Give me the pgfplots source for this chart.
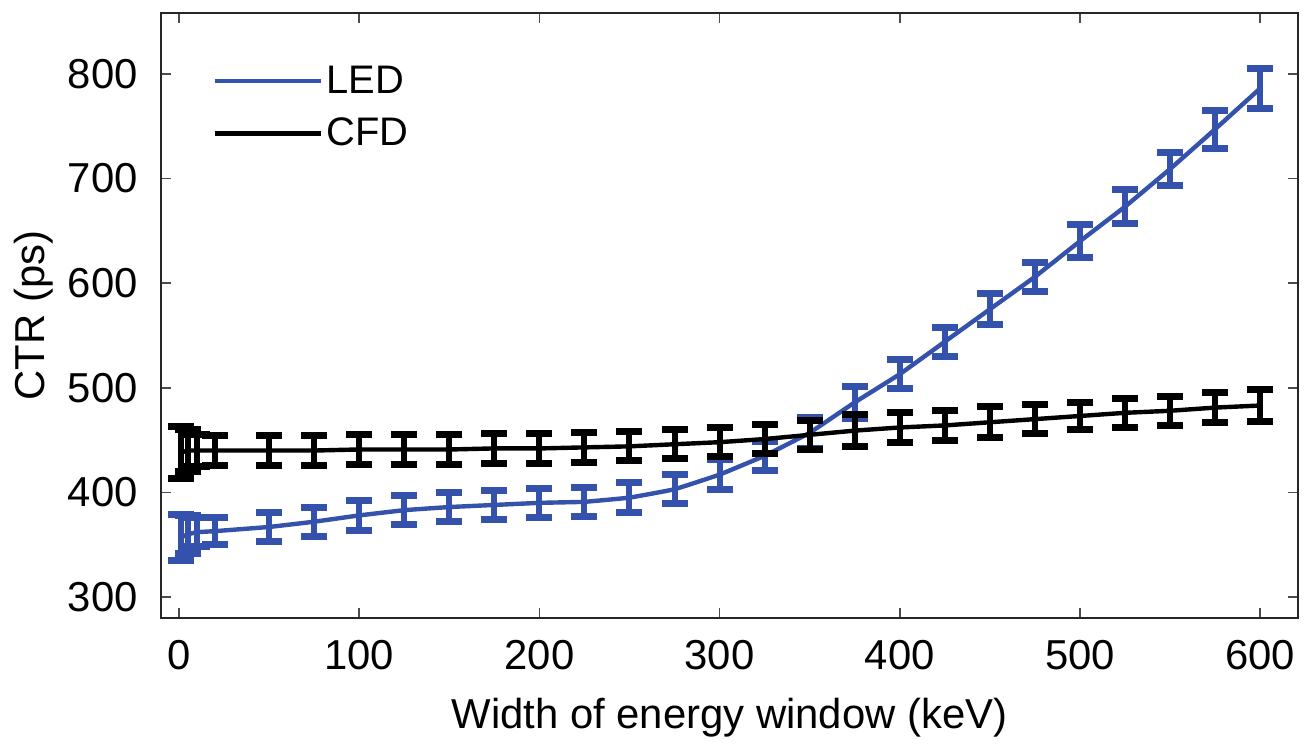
\documentclass[border=0pt]{standalone}
\usepackage{pgfplots}
\pgfplotsset{compat=1.18}
\usepackage{pgfplotstable}
\usepackage{fontspec}
\setmainfont{Liberation Sans}
\definecolor{ledblue}{RGB}{52,82,172}

\pgfplotstableread{
x y e
1 357 22
5 360 18
10 362 14
20 363 13
50 367 14
75 372 14
100 378 14
125 383 14
150 386 14
175 388 14
200 390 14
225 391 14
250 395 14
275 403 14
300 417 14
325 435 14
350 457 15
375 486 15
400 513 14
425 544 14
450 575 15
475 606 14
500 640 16
525 673 16
550 709 16
575 747 18
600 786 19
}\ledtable

\pgfplotstableread{
x y e
1 438 25
5 440 20
10 440 15
20 440 14
50 440 14
75 440 14
100 441 14
125 441 14
150 441 14
175 442 14
200 442 14
225 443 14
250 444 14
275 446 14
300 448 14
325 451 14
350 455 14
375 459 15
400 462 14
425 464 14
450 467 15
475 470 14
500 473 13
525 476 14
550 478 14
575 481 14
600 483 15
}\cfdtable

\begin{document}
\begin{tikzpicture}
\begin{axis}[
  scale only axis,
  width=568.5bp, height=302.5bp,
  xmin=-10, xmax=621, ymin=280, ymax=858,
  xtick={0,100,...,600}, ytick={300,400,...,800},
  tick align=inside,
  major tick length=5bp,
  tick style={line width=0.8bp, color=black!70},
  axis line style={line width=1.2bp, color=black!85},
  /pgf/number format/assume math mode=true,
  tick label style={font=\fontsize{21}{25}\selectfont},
  xticklabel style={inner sep=0pt, anchor=north, yshift=-11bp},
  yticklabel style={inner sep=0pt, anchor=east, xshift=-11.5bp},
  xlabel={Width of energy window (keV)},
  ylabel={CTR (ps)},
  label style={font=\fontsize{21}{25}\selectfont},
  xlabel style={at={(axis description cs:0.5,-0.1653)}, anchor=center},
  ylabel style={at={(axis description cs:-0.1117,0.5)}, anchor=center},
  legend style={draw=none, fill=none, at={(axis description cs:0.0449,0.92)}, anchor=north west,
    font=\fontsize{20}{24}\selectfont, row sep=7bp, inner sep=0pt},
  legend cell align=left,
  legend image code/.code={\draw[#1] (0bp,0bp) -- (53bp,0bp);},
]
\addplot[color=ledblue, line width=2.2bp, smooth, tension=0.15,
  error bars/.cd, y dir=both, y explicit,
  error bar style={line width=3bp, color=ledblue},
  error mark options={rotate=90, mark size=6.5bp, line width=3.5bp, color=ledblue}]
  table[x=x, y=y, y error=e] {\ledtable};
\addlegendentry{LED}
\addplot[color=black, line width=2.2bp, smooth, tension=0.15,
  error bars/.cd, y dir=both, y explicit,
  error bar style={line width=3bp, color=black},
  error mark options={rotate=90, mark size=6.5bp, line width=3.5bp, color=black}]
  table[x=x, y=y, y error=e] {\cfdtable};
\addlegendentry{CFD}
\end{axis}
\path ([xshift=-80.5bp,yshift=-68bp]current axis.south west) rectangle ([xshift=9bp,yshift=6.5bp]current axis.north east);
\end{tikzpicture}
\end{document}
